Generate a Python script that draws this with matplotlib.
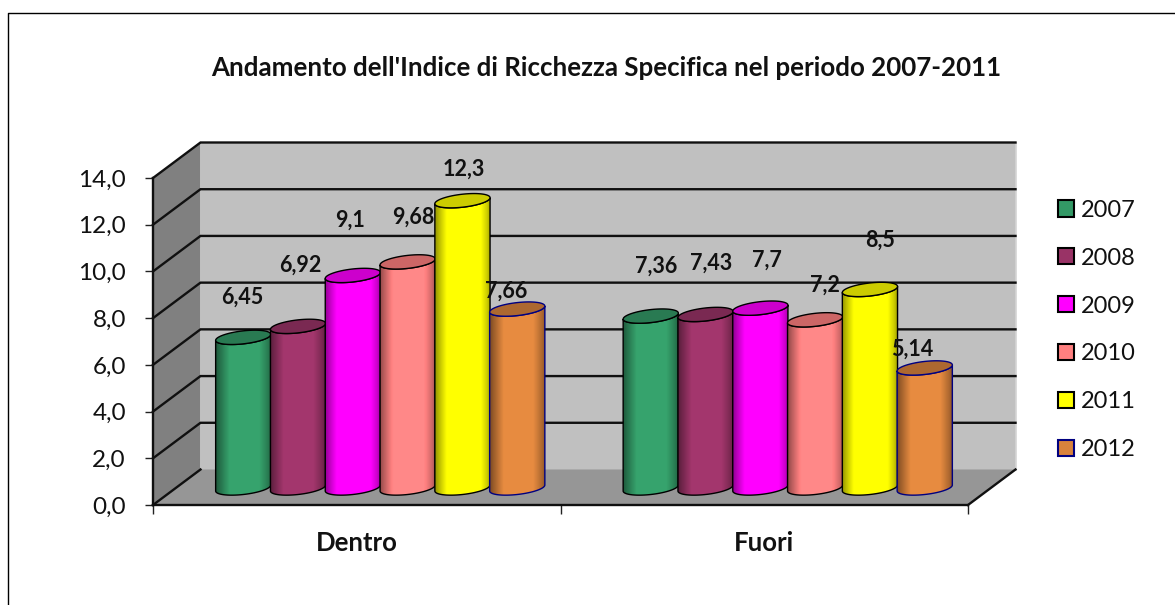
import numpy as np
import matplotlib
matplotlib.use("Agg")
import matplotlib.pyplot as plt
from matplotlib.colors import to_rgb
from matplotlib.lines import Line2D
from matplotlib.patches import Patch, Polygon

TITLE = "Andamento dell'Indice di Ricchezza Specifica nel periodo 2007-2011"
categories = ["Dentro", "Fuori"]
years = ["2007", "2008", "2009", "2010", "2011", "2012"]
dentro = [6.45, 6.92, 9.1, 9.68, 12.3, 7.66]
fuori = [7.36, 7.43, 7.7, 7.2, 8.5, 5.14]
dentro_labels = ["6,45", "6,92", "9,1", "9,68", "12,3", "7,66"]
fuori_labels = ["7,36", "7,43", "7,7", "7,2", "8,5", "5,14"]
y_ticks = [0, 2, 4, 6, 8, 10, 12, 14]
y_tick_labels = ["0,0", "2,0", "4,0", "6,0", "8,0", "10,0", "12,0", "14,0"]

colors = ["#339966", "#993366", "#FF00FF", "#FF8080", "#FFFF00", "#D8823C"]
edges = ["black", "black", "black", "black", "black", "#000080"]
# hand placement of the value labels, pixels from the top of each cylinder
dentro_offsets = [(-1.5, 40), (2.5, 61), (-2.5, 55), (5.5, 45), (1, 32), (-11.5, 18)]
fuori_offsets = [(5.5, 50), (5.5, 51), (6.5, 48), (9.5, 35), (10.5, 49), (-12.5, 19)]

W, H = 1175, 605
plt.rcParams["font.family"] = ["Lato", "DejaVu Sans"]
fig = plt.figure(figsize=(W / 100, H / 100), dpi=100, facecolor="white")
ax = fig.add_axes([153 / W, 1 - 505 / H, (968 - 153) / W, (505 - 178) / H])
ax.patch.set_visible(False)
ax.set_xlim(0, 2)
ax.set_ylim(0, 14)

px_x = 2 / (968 - 153)
px_y = 14 / (505 - 178)
wall_dx, wall_dy = 47.5 * px_x, 35.5 * px_y
LW = 1.7

# walls and floor
ax.add_patch(Polygon([(0, 0), (0, 14), (wall_dx, 14 + wall_dy), (wall_dx, wall_dy)],
                     fc="#808080", ec="none", zorder=1, clip_on=False))
ax.add_patch(Polygon([(wall_dx, wall_dy), (wall_dx, 14 + wall_dy),
                      (2 + wall_dx, 14 + wall_dy), (2 + wall_dx, wall_dy)],
                     fc="#C0C0C0", ec="none", zorder=1, clip_on=False))
ax.add_patch(Polygon([(0, 0), (2, 0), (2 + wall_dx, wall_dy), (wall_dx, wall_dy)],
                     fc="#969696", ec="none", zorder=1.1, clip_on=False))
ax.plot([2 + wall_dx] * 2, [wall_dy, 14 + wall_dy], color="#D4D4D4", lw=1.2, zorder=1.2, clip_on=False)
for v in y_ticks[1:]:
    ax.plot([0, wall_dx, 2 + wall_dx], [v, v + wall_dy, v + wall_dy],
            color="#101010", lw=LW, zorder=1.5, clip_on=False, solid_joinstyle="miter")
ax.plot([0, wall_dx], [0, wall_dy], color="#101010", lw=LW, zorder=1.5, clip_on=False)
ax.plot([2, 2 + wall_dx], [0, wall_dy], color="#101010", lw=LW, zorder=1.5, clip_on=False)

# cylinders
bar_w = 54.8 * px_x
rx = 27.6 * px_x
ry = 6.5 * px_y
tilt = 3 * px_y
depth_x, base_y = 23.5 * px_x, 17 * px_y
lower = np.linspace(np.pi, 2 * np.pi, 50)
full = np.linspace(0, 2 * np.pi, 100)


def gradient(color):
    rgb = np.array(to_rgb(color))
    pos = np.linspace(0, 1, 64)
    shade = np.interp(pos, [0, 0.06, 0.24, 0.78, 0.94, 1], [0.58, 0.72, 1.07, 1.07, 0.8, 0.62])
    return np.clip(shade[:, None] * rgb, 0, 1)[None, :, :]


def cylinder(cx, value, color, edge, z):
    top = base_y + value
    xb = cx + rx * np.cos(lower)
    yb = base_y + tilt * np.cos(lower) + ry * np.sin(lower)
    xt = cx + rx * np.cos(lower)[::-1]
    yt = top + tilt * np.cos(lower)[::-1] + ry * np.sin(lower)[::-1]
    outline = np.r_[np.c_[xb, yb], np.c_[xt, yt]]
    body = Polygon(outline, closed=True, fc="none", ec=edge, lw=1.0, zorder=z + 0.2, clip_on=False)
    ax.add_patch(body)
    im = ax.imshow(gradient(color), extent=(cx - rx, cx + rx, base_y - 2 * ry, top + 2 * ry),
                   aspect="auto", interpolation="bilinear", zorder=z)
    im.set_clip_path(Polygon(outline, closed=True, transform=ax.transData))
    ex = cx + rx * np.cos(full)
    ey = top + tilt * np.cos(full) + ry * np.sin(full)
    ax.add_patch(Polygon(np.c_[ex, ey], closed=True, fc=np.array(to_rgb(color)) * 0.8,
                         ec=edge, lw=1.0, zorder=z + 0.3, clip_on=False))


z = 3.0
for g, (vals, labs, offs) in enumerate([(dentro, dentro_labels, dentro_offsets),
                                        (fuori, fuori_labels, fuori_offsets)]):
    for j, v in enumerate(vals):
        cx = g + 0.5 + (j - 2.5) * bar_w + depth_x
        cylinder(cx, v, colors[j], edges[j], z)
        z += 0.5
        ax.annotate(labs[j], (cx, base_y + v),
                    xytext=(offs[j][0] * 0.72, offs[j][1] * 0.72), textcoords="offset points",
                    ha="center", va="center", fontsize=15.5, fontweight="bold",
                    color="#111111", zorder=20)

ax.set_xlim(0, 2)
ax.set_ylim(0, 14)

# axes
for s in ["top", "right"]:
    ax.spines[s].set_visible(False)
for s in ["left", "bottom"]:
    ax.spines[s].set_linewidth(LW)
    ax.spines[s].set_color("#101010")
    ax.spines[s].set_zorder(2)
ax.set_yticks(y_ticks)
ax.set_yticklabels(y_tick_labels, fontsize=17.5, color="#111111")
ax.tick_params(axis="y", length=5.5, width=1, pad=14, color="#222222")
ax.set_xticks([0, 1, 2])
ax.set_xticklabels(["", "", ""])
ax.tick_params(axis="x", which="major", length=6.5, width=1, color="#222222")
ax.set_xticks([0.5, 1.5], minor=True)
ax.set_xticklabels(categories, minor=True, fontsize=18.5, fontweight="bold", color="#111111")
ax.tick_params(axis="x", which="minor", length=0, pad=18.5)

# title
fig.text(606.5 / W, 1 - 68 / H, TITLE, ha="center", va="center", fontsize=18.65,
         fontweight="bold", color="#111111")

# legend
handles = [Patch(fc=c, ec=e, lw=1.5) for c, e in zip(colors, edges)]
fig.legend(handles, years, loc="center left", bbox_to_anchor=(1058 / W, 1 - 330 / H),
           frameon=False, fontsize=17, handlelength=0.68, handleheight=0.68,
           handletextpad=0.3, labelspacing=1.14, borderpad=0, borderaxespad=0,
           labelcolor="#111111")

# outer frame of the picture
fig.add_artist(Line2D([8 / W, 8 / W, 1], [0, 1 - 12.5 / H, 1 - 12.5 / H],
                      color="black", lw=1.0, transform=fig.transFigure))

fig.savefig("out.png", dpi=100, facecolor="white")
